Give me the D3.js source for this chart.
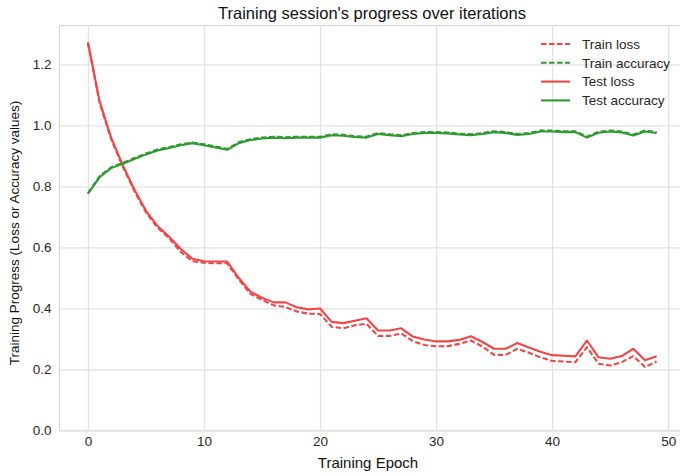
<!DOCTYPE html>
<html>
<head>
<meta charset="utf-8">
<script src="https://cdn.jsdelivr.net/npm/d3@7"></script>
<style>
  html, body { margin: 0; padding: 0; background: #fff; }
  svg { display: block; font-family: "Liberation Sans", Arial, sans-serif; }
</style>
</head>
<body>
<svg id="chart" width="680" height="476"></svg>
<script>
// Per-epoch metrics recorded during training
const epochs = d3.range(0, 50);

const trainLoss = [1.27, 1.075, 0.955, 0.865, 0.785, 0.715, 0.665, 0.63, 0.585, 0.555,
  0.55, 0.548, 0.548, 0.495, 0.448, 0.428, 0.41, 0.405, 0.39, 0.383,
  0.382, 0.34, 0.335, 0.345, 0.35, 0.31, 0.31, 0.318, 0.293, 0.28,
  0.276, 0.276, 0.284, 0.295, 0.275, 0.248, 0.248, 0.268, 0.255, 0.24,
  0.228, 0.226, 0.224, 0.273, 0.219, 0.213, 0.224, 0.244, 0.208, 0.226];

const trainAccuracy = [0.778, 0.833, 0.863, 0.877, 0.893, 0.908, 0.921, 0.929, 0.938, 0.944,
  0.938, 0.931, 0.923, 0.945, 0.955, 0.96, 0.963, 0.961, 0.963, 0.963,
  0.963, 0.971, 0.969, 0.965, 0.963, 0.975, 0.971, 0.968, 0.975, 0.978,
  0.978, 0.977, 0.973, 0.971, 0.975, 0.981, 0.978, 0.972, 0.975, 0.983,
  0.983, 0.981, 0.981, 0.963, 0.979, 0.983, 0.98, 0.97, 0.983, 0.978];

const testLoss = [1.273, 1.08, 0.96, 0.87, 0.79, 0.72, 0.67, 0.635, 0.595, 0.563,
  0.555, 0.554, 0.554, 0.5, 0.455, 0.435, 0.42, 0.42, 0.404, 0.397,
  0.4, 0.356, 0.352, 0.36, 0.368, 0.328, 0.328, 0.335, 0.308, 0.298,
  0.292, 0.292, 0.297, 0.309, 0.29, 0.268, 0.268, 0.287, 0.272, 0.258,
  0.247, 0.245, 0.243, 0.295, 0.24, 0.235, 0.244, 0.268, 0.23, 0.243];

const testAccuracy = [0.776, 0.83, 0.86, 0.874, 0.89, 0.905, 0.918, 0.926, 0.935, 0.942,
  0.935, 0.928, 0.92, 0.942, 0.952, 0.957, 0.96, 0.958, 0.96, 0.96,
  0.96, 0.968, 0.966, 0.962, 0.96, 0.972, 0.968, 0.965, 0.972, 0.975,
  0.975, 0.974, 0.97, 0.968, 0.972, 0.978, 0.975, 0.969, 0.972, 0.98,
  0.98, 0.978, 0.978, 0.96, 0.976, 0.98, 0.977, 0.967, 0.98, 0.975];

const xTicks = [0, 10, 20, 30, 40, 50];
const yTicks = [0.0, 0.2, 0.4, 0.6, 0.8, 1.0, 1.2];

const seriesNames = ["Train loss", "Train accuracy", "Test loss", "Test accuracy"];

const red = "#f04646";
const green = "#2f9a30";

const series = [
  { name: seriesNames[0], values: trainLoss, color: red, dash: "5.5,2.5" },
  { name: seriesNames[1], values: trainAccuracy, color: green, dash: "5.5,2.5" },
  { name: seriesNames[2], values: testLoss, color: red, dash: null },
  { name: seriesNames[3], values: testAccuracy, color: green, dash: null }
];

const svg = d3.select("#chart");
const margin = { left: 59.5, top: 25.5, right: 685, bottom: 430.5 };

const x = d3.scaleLinear().domain([-2.45, 51.45]).range([margin.left, margin.right]);
const y = d3.scaleLinear().domain([0, 1.3275]).range([margin.bottom, margin.top]);

const gridColor = "#e3e3e3";
const textColor = "#262626";

// plot frame and grid
svg.append("rect")
  .attr("x", margin.left).attr("y", margin.top)
  .attr("width", margin.right - margin.left).attr("height", margin.bottom - margin.top)
  .attr("fill", "#fff").attr("stroke", "#d6d6d6").attr("stroke-width", 1.2);

const xAxis = d3.axisBottom(x).tickValues(xTicks).tickSize(-(margin.bottom - margin.top))
  .tickPadding(5).tickFormat(d3.format("d"));
const yAxis = d3.axisLeft(y).tickValues(yTicks).tickSize(-(margin.right - margin.left))
  .tickPadding(8).tickFormat(d3.format(".1f"));

const gx = svg.append("g").attr("transform", `translate(0,${margin.bottom})`).call(xAxis);
const gy = svg.append("g").attr("transform", `translate(${margin.left},0)`).call(yAxis);

[gx, gy].forEach(g => {
  g.select(".domain").remove();
  g.selectAll(".tick line").attr("stroke", gridColor).attr("stroke-width", 1.3);
  g.selectAll(".tick text").attr("fill", textColor).attr("font-size", 13.5)
    .attr("font-family", "'Liberation Sans', Arial, sans-serif");
});
gx.selectAll(".tick text").attr("dy", "0.75em");

// data lines
const line = d3.line().x((d, i) => x(epochs[i])).y(d => y(d));
const lines = svg.append("g");
series.forEach(s => {
  lines.append("path")
    .datum(s.values)
    .attr("d", line)
    .attr("fill", "none")
    .attr("stroke", s.color)
    .attr("stroke-width", 2.1)
    .attr("stroke-linejoin", "round")
    .attr("stroke-dasharray", s.dash);
});

// title and axis labels
svg.append("text")
  .attr("x", 372).attr("y", 19)
  .attr("text-anchor", "middle").attr("font-size", 16.5).attr("fill", "#111")
  .text("Training session's progress over iterations");

svg.append("text")
  .attr("x", 368).attr("y", 468)
  .attr("text-anchor", "middle").attr("font-size", 15).attr("fill", "#111")
  .text("Training Epoch");

svg.append("text")
  .attr("transform", "translate(19,233) rotate(-90)")
  .attr("text-anchor", "middle").attr("font-size", 13.5).attr("fill", "#111")
  .text("Training Progress (Loss or Accuracy values)");

// legend
const legend = svg.append("g");
series.forEach((s, i) => {
  const ly = 44 + i * 18.8;
  legend.append("line")
    .attr("x1", 541).attr("x2", 570).attr("y1", ly).attr("y2", ly)
    .attr("stroke", s.color).attr("stroke-width", 2.1)
    .attr("stroke-dasharray", s.dash);
  legend.append("text")
    .attr("x", 582).attr("y", ly).attr("dy", "0.35em")
    .attr("font-size", 13.5).attr("fill", textColor)
    .text(s.name);
});
</script>
</body>
</html>
